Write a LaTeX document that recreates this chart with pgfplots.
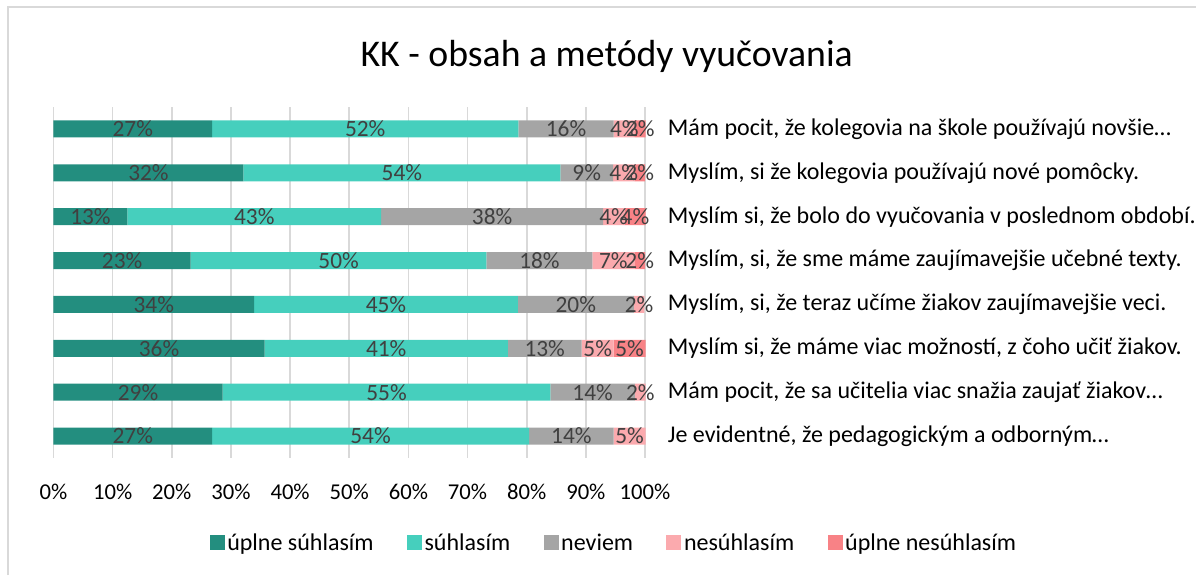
\documentclass[border=0pt]{standalone}
\usepackage{pgfplots}
\pgfplotsset{compat=1.18}
\usepackage{fontspec}
\setmainfont{Carlito}
\definecolor{cA}{HTML}{238E7F}
\definecolor{cB}{HTML}{46CFBD}
\definecolor{cC}{HTML}{A5A5A5}
\definecolor{cD}{HTML}{FBAAAE}
\definecolor{cE}{HTML}{F88286}
\definecolor{gridc}{HTML}{D9D9D9}
\definecolor{lblc}{HTML}{404040}
\begin{document}
\begin{tikzpicture}
\useasboundingbox (0,0) rectangle (897pt,-431.25pt);
\draw[gridc, line width=0.9pt] (6pt,-431.25pt) -- (6pt,-5.25pt) -- (897pt,-5.25pt);
\node[font=\fontsize{28.3}{33}\selectfont, anchor=center] at (455pt,-42pt) {KK - obsah a metódy vyučovania};
\begin{axis}[
  at={(40.125pt,-343.5pt)}, anchor=south west,
  scale only axis, width=443.625pt, height=263.25pt,
  xbar stacked, bar width=12.75pt,
  xmin=0, xmax=100, ymin=0.5, ymax=8.5, y dir=reverse,
  clip=false,
  axis line style={draw=none},
  major tick length=0pt,
  xmajorgrids, grid style={gridc, line width=1.2pt},
  xtick={0,10,...,100},
  xticklabel={\pgfmathprintnumber{\tick}\%},
  xticklabel style={anchor=base, yshift=-30.75pt, font=\fontsize{17}{20}\selectfont},
  /pgf/number format/assume math mode=true,
  ytick={1,...,8},
  yticklabel pos=right,
  yticklabels={{Mám pocit, že kolegovia na škole používajú novšie…},
    {Myslím, si že kolegovia používajú nové pomôcky.},
    {Myslím si, že bolo do vyučovania v poslednom období.},
    {Myslím, si, že sme máme zaujímavejšie učebné texty.},
    {Myslím, si, že teraz učíme žiakov zaujímavejšie veci.},
    {Myslím si, že máme viac možností, z čoho učiť žiakov.},
    {Mám pocit, že sa učitelia viac snažia zaujať  žiakov…},
    {Je evidentné, že pedagogickým a odborným…}},
  yticklabel style={anchor=west, inner sep=0pt, xshift=17pt, font=\fontsize{18}{21}\selectfont},
  point meta=rawx,
  nodes near coords={\pgfmathfloatparsenumber{\pgfplotspointmeta}\pgfmathfloatifflags{\pgfmathresult}{0}{}{\pgfmathprintnumber[fixed,precision=0]{\pgfplotspointmeta}\%}},
  every node near coord/.append style={font=\fontsize{17.5}{20}\selectfont, text=lblc},
  legend style={at={(0.948,-0.242)}, anchor=center, draw=none, legend columns=5,
    font=\fontsize{18}{21}\selectfont,
    /tikz/every even column/.append style={column sep=23pt}},
  legend image code/.code={\fill[#1] (0pt,-5.6pt) rectangle (11.2pt,5.6pt);},
]
\addplot[fill=cA, draw=none] coordinates {(26.8,1) (32.1,2) (12.5,3) (23.2,4) (33.9,5) (35.7,6) (28.6,7) (26.8,8)};
\addplot[fill=cB, draw=none] coordinates {(51.8,1) (53.6,2) (42.9,3) (50.0,4) (44.6,5) (41.1,6) (55.4,7) (53.6,8)};
\addplot[fill=cC, draw=none] coordinates {(16.1,1) (8.9,2) (37.5,3) (17.9,4) (19.6,5) (12.5,6) (14.3,7) (14.3,8)};
\addplot[fill=cD, draw=none] coordinates {(3.6,1) (3.6,2) (3.6,3) (7.1,4) (1.8,5) (5.4,6) (1.8,7) (5.4,8)};
\addplot[fill=cE, draw=none] coordinates {(1.8,1) (1.8,2) (3.6,3) (1.8,4) (0,5) (5.4,6) (0,7) (0,8)};
\legend{úplne súhlasím, súhlasím, neviem, nesúhlasím, úplne nesúhlasím}
\end{axis}
\end{tikzpicture}
\end{document}
